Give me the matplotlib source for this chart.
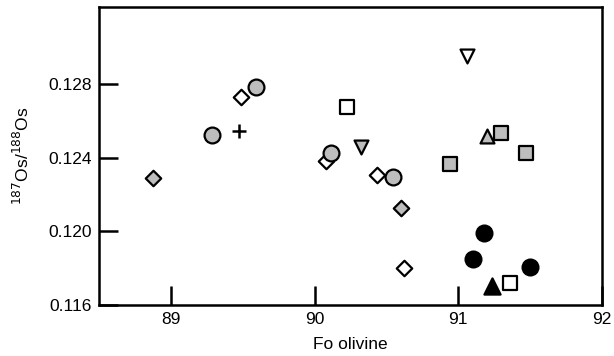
import matplotlib
matplotlib.use("Agg")
import matplotlib.pyplot as plt

plt.rcParams['font.family'] = ['Liberation Sans', 'DejaVu Sans']

GRAY = '#bdbdbd'

gray_diamond_x = [88.875, 90.60]
gray_diamond_y = [0.12290, 0.12125]
open_diamond_x = [89.486, 90.08, 90.433, 90.62]
open_diamond_y = [0.12729, 0.12382, 0.12306, 0.11803]
gray_circle_x = [89.285, 89.59, 90.111, 90.544]
gray_circle_y = [0.12523, 0.12783, 0.12425, 0.12297]
plus_x = [89.472]
plus_y = [0.12545]
open_square_x = [90.229, 91.361]
open_square_y = [0.12675, 0.11718]
gray_tridown_x = [90.326]
gray_tridown_y = [0.12459]
open_tridown_x = [91.06]
open_tridown_y = [0.12952]
gray_triup_x = [91.197]
gray_triup_y = [0.12517]
gray_square_x = [91.296, 91.472, 90.94]
gray_square_y = [0.12535, 0.12424, 0.12364]
black_circle_x = [91.176, 91.104, 91.5]
black_circle_y = [0.11989, 0.11850, 0.11808]
black_triup_x = [91.234]
black_triup_y = [0.11703]

xticks = [89, 90, 91, 92]
yticks = [0.116, 0.120, 0.124, 0.128]

fig = plt.figure(figsize=(6.14, 3.56), dpi=100)
ax = fig.add_axes([99/614, 1 - 305/356, (602-99)/614, (305-7)/356])

lw = 1.6
def pts(x, y, m, fc, s):
    ax.scatter(x, y, marker=m, s=s, facecolor=fc, edgecolor='black', linewidths=lw, zorder=3)

pts(open_diamond_x, open_diamond_y, 'D', 'white', 62)
pts(gray_diamond_x, gray_diamond_y, 'D', GRAY, 62)
pts(gray_circle_x, gray_circle_y, 'o', GRAY, 130)
ax.scatter(plus_x, plus_y, marker='+', s=110, color='black', linewidths=1.8, zorder=3)
pts(open_square_x, open_square_y, 's', 'white', 100)
pts(gray_square_x, gray_square_y, 's', GRAY, 100)
pts(gray_tridown_x, gray_tridown_y, 'v', GRAY, 100)
pts(open_tridown_x, open_tridown_y, 'v', 'white', 100)
pts(gray_triup_x, gray_triup_y, '^', GRAY, 100)
pts(black_circle_x, black_circle_y, 'o', 'black', 130)
pts(black_triup_x, black_triup_y, '^', 'black', 135)

ax.set_xlim(88.5, 92)
ax.set_ylim(0.116, 0.1322)
ax.set_xticks(xticks)
ax.set_xticklabels([str(v) for v in xticks])
ax.set_yticks(yticks)
ax.set_yticklabels([f"{v:.3f}" for v in yticks])
ax.tick_params(direction='in', length=14, width=1.8, labelsize=12.5, pad=5)
for s in ax.spines.values():
    s.set_linewidth(1.8)

ax.set_xlabel('Fo olivine', fontsize=12.5, labelpad=7)
ax.set_ylabel(r'$^{187}$Os/$^{188}$Os', fontsize=12.5, labelpad=12)

fig.savefig('out.png', dpi=100)
